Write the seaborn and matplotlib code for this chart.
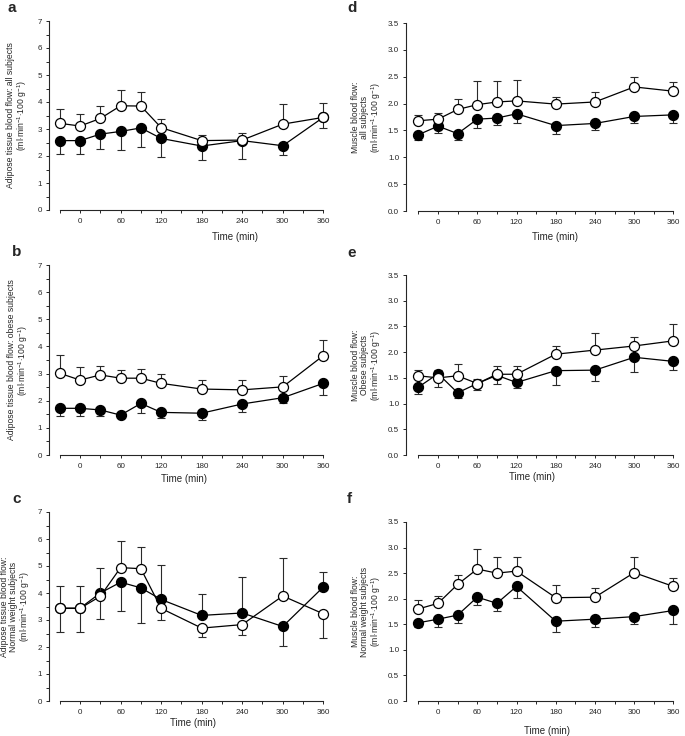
import matplotlib
matplotlib.use('Agg')
import matplotlib.pyplot as plt
import seaborn as sns
import numpy as np
from matplotlib.ticker import MultipleLocator, FormatStrFormatter

# time points (min)
time = [-30, 0, 30, 60, 90, 120, 180, 240, 300, 360]

# a: adipose tissue, all subjects (value / end of error bar)
a_open = [3.21, 3.11, 3.39, 3.86, 3.85, 3.05, 2.57, 2.59, 3.18, 3.43]
a_open_end = [3.75, 3.57, 3.86, 4.44, 4.37, 3.36, 2.79, 2.86, 3.91, 3.95]
a_fill = [2.57, 2.57, 2.81, 2.91, 3.04, 2.65, 2.37, 2.57, 2.38, 3.43]
a_fill_end = [2.06, 2.06, 2.25, 2.22, 2.33, 1.97, 1.87, 1.89, 2.03, 3.02]

# b: adipose tissue, obese subjects
b_open = [3.01, 2.76, 2.95, 2.83, 2.83, 2.64, 2.43, 2.40, 2.51, 3.66]
b_open_end = [3.69, 3.26, 3.28, 3.13, 3.16, 2.97, 2.76, 2.76, 2.91, 4.25]
b_fill = [1.72, 1.72, 1.66, 1.47, 1.90, 1.57, 1.54, 1.88, 2.11, 2.64]
b_fill_end = [1.44, 1.44, 1.45, 1.47, 1.56, 1.35, 1.29, 1.58, 1.93, 2.22]

# c: adipose tissue, normal weight subjects
c_open = [3.43, 3.43, 3.88, 4.94, 4.90, 3.43, 2.70, 2.83, 3.89, 3.23]
c_open_end = [4.27, 4.27, 4.93, 5.91, 5.69, 3.00, 2.37, 2.45, 5.31, 2.34]
c_fill = [3.44, 3.44, 4.00, 4.40, 4.19, 3.76, 3.17, 3.26, 2.76, 4.22]
c_fill_end = [2.55, 2.55, 3.02, 3.32, 2.89, 5.04, 3.98, 4.60, 2.02, 4.76]

# d: muscle, all subjects
d_open = [1.68, 1.71, 1.89, 1.98, 2.03, 2.05, 1.99, 2.03, 2.31, 2.23]
d_open_end = [1.78, 1.83, 2.09, 2.42, 2.42, 2.44, 2.12, 2.21, 2.50, 2.40]
d_fill = [1.42, 1.58, 1.44, 1.71, 1.73, 1.81, 1.59, 1.63, 1.76, 1.79]
d_fill_end = [1.33, 1.45, 1.33, 1.55, 1.61, 1.64, 1.43, 1.50, 1.64, 1.63]

# e: muscle, obese subjects
e_open = [1.54, 1.50, 1.54, 1.39, 1.57, 1.57, 1.96, 2.04, 2.12, 2.22]
e_open_end = [1.66, 1.32, 1.77, 1.47, 1.73, 1.73, 2.12, 2.37, 2.30, 2.54]
e_fill = [1.32, 1.58, 1.21, 1.39, 1.55, 1.41, 1.64, 1.65, 1.90, 1.82]
e_fill_end = [1.18, 1.66, 1.11, 1.26, 1.38, 1.30, 1.37, 1.43, 1.62, 1.65]

# f: muscle, normal weight subjects
f_open = [1.80, 1.91, 2.28, 2.58, 2.50, 2.54, 2.02, 2.03, 2.51, 2.24]
f_open_end = [1.98, 2.05, 2.46, 2.97, 2.81, 2.82, 2.26, 2.20, 2.82, 2.40]
f_fill = [1.53, 1.60, 1.68, 2.03, 1.91, 2.24, 1.56, 1.60, 1.65, 1.77]
f_fill_end = [1.45, 1.45, 1.52, 1.88, 1.76, 2.01, 1.35, 1.45, 1.51, 1.50]

unit = r'(ml$\cdot$min$^{-1}$$\cdot$100 g$^{-1}$)'

sns.set_style('ticks')
plt.rcParams['font.family'] = ['Liberation Sans', 'DejaVu Sans']
plt.rcParams['mathtext.fontset'] = 'custom'
plt.rcParams['mathtext.rm'] = 'Liberation Sans'
plt.rcParams['mathtext.it'] = 'Liberation Sans:italic'
plt.rcParams['mathtext.bf'] = 'Liberation Sans:bold'

W, H = 685, 736
fig = plt.figure(figsize=(W / 100, H / 100), dpi=100)


def add_axes(left, top, right, bottom):
    return fig.add_axes([left / W, (H - bottom) / H, (right - left) / W, (bottom - top) / H])


def draw_panel(ax, box, xlim, open_v, open_end, fill_v, fill_end, ymax, ystep,
               ylabel, ylab_x, letter, letter_xy, xlab_xy, minor_y):
    for vals, ends, face, z in [(fill_v, fill_end, 'black', 3), (open_v, open_end, 'white', 4)]:
        v = np.array(vals)
        e = np.array(ends)
        lo = np.clip(v - e, 0, None)
        hi = np.clip(e - v, 0, None)
        ax.errorbar(time, v, yerr=[lo, hi], fmt='none', ecolor='#2a2a2a',
                    elinewidth=0.8, capsize=2.6, capthick=0.8, zorder=z - 0.5, clip_on=False)
        sns.lineplot(x=time, y=vals, ax=ax, color='black', lw=0.9, marker='o',
                     markersize=7.2, markerfacecolor=face, markeredgecolor='black',
                     markeredgewidth=0.9, zorder=z, clip_on=False)

    ax.set_xlim(*xlim)
    ax.set_ylim(0, ymax)
    ax.xaxis.set_major_locator(MultipleLocator(60))
    ax.xaxis.set_minor_locator(MultipleLocator(30))
    ax.yaxis.set_major_locator(MultipleLocator(ystep))
    if minor_y:
        ax.yaxis.set_minor_locator(MultipleLocator(ystep / 2))
    if ystep < 1:
        ax.yaxis.set_major_formatter(FormatStrFormatter('%.1f'))
    ax.tick_params(axis='both', which='major', length=2.5, width=0.7, labelsize=5.8, pad=2.5)
    ax.tick_params(axis='both', which='minor', length=2.0, width=0.7)
    ax.tick_params(axis='x', which='major', pad=3.5)

    sns.despine(ax=ax)
    ax.spines['left'].set_bounds(0, ymax)
    ax.spines['bottom'].set_bounds(-30, 360)
    ax.spines['left'].set_linewidth(0.8)
    ax.spines['bottom'].set_linewidth(0.8)

    left, top, right, bottom = box
    ax.set_ylabel(ylabel, fontsize=6.2, linespacing=1.0)
    ax.yaxis.set_label_coords((ylab_x - left) / (right - left), 0.5)
    ax.set_xlabel('Time (min)', fontsize=7)
    # label coords give the top of the text; centre given in pixels
    ax.xaxis.set_label_coords((xlab_xy[0] - left) / (right - left),
                              (bottom - (xlab_xy[1] - 4.5)) / (bottom - top))
    fig.text(letter_xy[0] / W, 1 - letter_xy[1] / H, letter, fontsize=11,
             fontweight='bold', va='top', ha='left')


panels = [
    ((49, 21, 328, 210), (-46, 367), a_open, a_open_end, a_fill, a_fill_end, 7, 1,
     'Adipose tissue blood flow: all subjects\n' + unit, 29, 'a', (8, 1), (235, 237), True),
    ((49, 265, 328, 455), (-46, 367), b_open, b_open_end, b_fill, b_fill_end, 7, 1,
     'Adipose tissue blood flow: obese subjects\n' + unit, 30, 'b', (12, 245), (184, 479), True),
    ((49, 512, 328, 701), (-46, 367), c_open, c_open_end, c_fill, c_fill_end, 7, 1,
     'Adipose tissue blood flow:\nNormal weight subjects\n' + unit, 32, 'c', (12, 492), (193, 723), True),
    ((406, 23, 678, 211), (-49, 367), d_open, d_open_end, d_fill, d_fill_end, 3.5, 0.5,
     'Muscle blood flow:\nall subjects\n' + unit, 383, 'd', (347, 1), (555, 236), False),
    ((406, 275, 678, 455), (-49, 367), e_open, e_open_end, e_fill, e_fill_end, 3.5, 0.5,
     'Muscle blood flow:\nObese subjects\n' + unit, 383, 'e', (347, 246), (532, 476), False),
    ((406, 522, 678, 701), (-49, 367), f_open, f_open_end, f_fill, f_fill_end, 3.5, 0.5,
     'Muscle blood flow:\nNormal weight subjects\n' + unit, 383, 'f', (347, 492), (547, 730), False),
]

for p in panels:
    ax = add_axes(*p[0])
    draw_panel(ax, *p)

fig.savefig('out.png', dpi=100)
